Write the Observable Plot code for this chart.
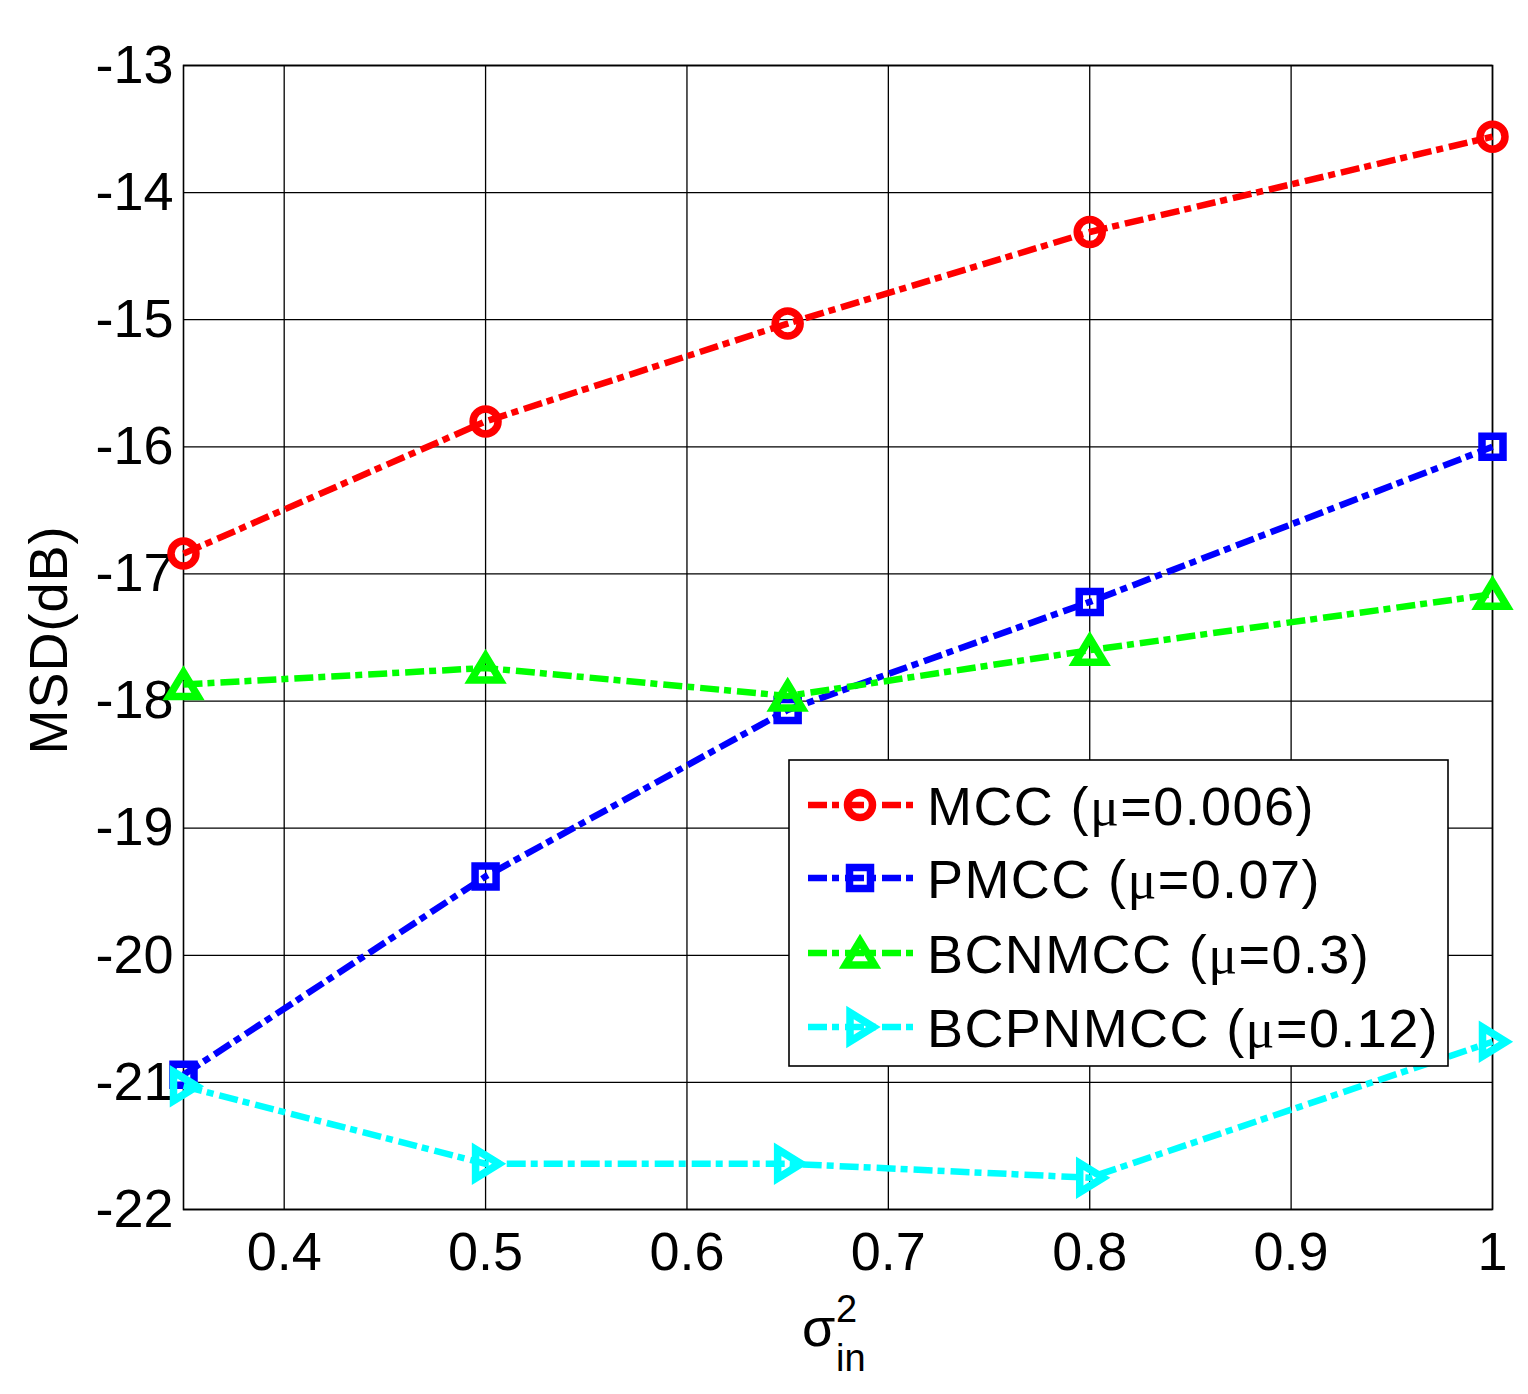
<!DOCTYPE html>
<html>
<head>
<meta charset="utf-8">
<script src="https://cdn.jsdelivr.net/npm/d3@7"></script>
<script src="https://cdn.jsdelivr.net/npm/@observablehq/plot@0.6"></script>
<style>
  html, body { margin: 0; padding: 0; background: white; }
  #chart { width: 1528px; height: 1394px; }
</style>
</head>
<body>
<div id="chart"></div>
<script>
// ---- data ----
const sigma2 = [0.35, 0.5, 0.65, 0.8, 1.0];
const mccValues = [-16.84, -15.80, -15.03, -14.31, -13.56];
const pmccValues = [-20.94, -19.38, -18.07, -17.22, -16.00];
const bcnmccValues = [-17.87, -17.74, -17.96, -17.60, -17.16];
const bcpnmccValues = [-21.03, -21.64, -21.64, -21.75, -20.68];

const seriesNames = ["MCC", "PMCC", "BCNMCC", "BCPNMCC"];
const seriesMu = ["0.006", "0.07", "0.3", "0.12"];
const xTicks = [0.4, 0.5, 0.6, 0.7, 0.8, 0.9, 1.0];
const yTicks = [-22, -21, -20, -19, -18, -17, -16, -15, -14, -13];

const seriesValues = [mccValues, pmccValues, bcnmccValues, bcpnmccValues];
const colors = ["#ff0000", "#0000ff", "#00ff00", "#00ffff"];

// custom marker shapes (MATLAB style), fixed pixel geometry
const symCircle = { draw(ctx) { ctx.moveTo(12.5, 0); ctx.arc(0, 0, 12.5, 0, 2 * Math.PI); ctx.closePath(); } };
const symSquare = { draw(ctx) { const h = 10.5;
  ctx.moveTo(-h, -h); ctx.lineTo(h, -h); ctx.lineTo(h, h); ctx.lineTo(-h, h); ctx.closePath(); } };
const symTriUp = { draw(ctx) {
  ctx.moveTo(0, -12); ctx.lineTo(14.5, 12); ctx.lineTo(-14.5, 12); ctx.closePath(); } };
const symTriRight = { draw(ctx) {
  ctx.moveTo(13.5, 0); ctx.lineTo(-10, 14.5); ctx.lineTo(-10, -14.5); ctx.closePath(); } };
const symbols = [symCircle, symSquare, symTriUp, symTriRight];

const FONT = "'Liberation Sans', Arial, Helvetica, sans-serif";
const FS = 54;
const LW = 6.5;
const MW = 7.5;
const DASH = "19,5,7,6";

const marks = [
  Plot.gridX(xTicks, { stroke: "black", strokeOpacity: 1, strokeWidth: 1.3 }),
  Plot.gridY(yTicks, { stroke: "black", strokeOpacity: 1, strokeWidth: 1.3 }),
  Plot.frame({ stroke: "black", strokeWidth: 1.6 }),
  Plot.axisX({ ticks: xTicks, tickSize: 0, tickPadding: 22, fontSize: FS,
    tickFormat: d => (d === 1 ? "1" : d.toFixed(1)), label: null }),
  Plot.axisY({ ticks: yTicks, tickSize: 0, tickPadding: 10, fontSize: FS,
    tickFormat: d => String(d).replace("\u2212", "-"), label: null })
];

seriesValues.forEach((vals, i) => {
  const rows = sigma2.map((x, j) => ({ x, y: vals[j] }));
  marks.push(Plot.line(rows, { x: "x", y: "y", stroke: colors[i], strokeWidth: LW,
    strokeDasharray: DASH, strokeLinecap: "butt", strokeLinejoin: "miter" }));
  marks.push(Plot.dot(rows, { x: "x", y: "y", r: 12, symbol: () => symbols[i],
    stroke: colors[i], strokeWidth: MW, fill: "none", strokeLinejoin: "miter", strokeMiterlimit: 10 }));
});

const chart = Plot.plot({
  width: 1528,
  height: 1394,
  marginLeft: 183,
  marginRight: 36,
  marginTop: 65,
  marginBottom: 185,
  x: { domain: [0.35, 1.0] },
  y: { domain: [-22, -13] },
  style: { fontFamily: FONT, fontSize: FS + "px", color: "black", background: "white", overflow: "visible" },
  marks
});

document.getElementById("chart").appendChild(chart);

// ---- axis labels and legend, drawn in the same SVG ----
const svg = d3.select(chart);
svg.selectAll("text").attr("fill", "black");

svg.append("text")
  .attr("transform", "translate(67,640) rotate(-90)")
  .attr("text-anchor", "middle")
  .attr("font-family", FONT).attr("font-size", FS).attr("fill", "black")
  .attr("letter-spacing", 1)
  .text("MSD(dB)");

const xl = svg.append("g").attr("font-family", FONT).attr("fill", "black").attr("text-anchor", "start");
xl.append("text").attr("x", 802).attr("y", 1346).attr("font-size", FS).text("\u03c3");
xl.append("text").attr("x", 836).attr("y", 1322).attr("font-size", 38).text("2");
xl.append("text").attr("x", 836).attr("y", 1371).attr("font-size", 38).text("in");

const lg = svg.append("g").attr("text-anchor", "start");
lg.append("rect").attr("x", 789).attr("y", 760).attr("width", 659).attr("height", 306)
  .attr("fill", "white").attr("stroke", "black").attr("stroke-width", 1.6);
const rowY = [805, 878, 953, 1027];
seriesNames.forEach((name, i) => {
  const y = rowY[i];
  lg.append("line").attr("x1", 808).attr("x2", 916).attr("y1", y).attr("y2", y)
    .attr("stroke", colors[i]).attr("stroke-width", LW).attr("stroke-dasharray", DASH);
  lg.append("path").attr("transform", `translate(860,${y})`)
    .attr("d", d3.symbol(symbols[i], 100)())
    .attr("fill", "none").attr("stroke", colors[i]).attr("stroke-width", MW)
    .attr("stroke-linejoin", "miter").attr("stroke-miterlimit", 10);
  const t = lg.append("text").attr("x", 927).attr("y", y + 20)
    .attr("font-family", FONT).attr("font-size", FS).attr("fill", "black")
    .attr("letter-spacing", 1.4);
  t.append("tspan").text(name + " (");
  t.append("tspan").attr("font-family", "'Liberation Serif', 'DejaVu Serif', serif").text("\u03bc");
  t.append("tspan").text("=" + seriesMu[i] + ")");
});
</script>
</body>
</html>
